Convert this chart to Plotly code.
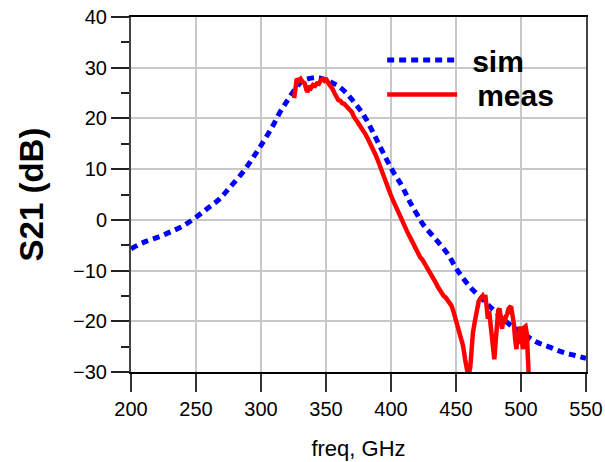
import plotly.graph_objects as go

# Simulated S21 response (dB) versus frequency (GHz)
sim_freq = [200, 210, 222, 231, 240, 250, 260, 268, 276, 286, 295, 302, 309, 315,
            320, 326, 332, 340, 345, 350, 355, 360, 367, 375, 381, 388, 394, 401,
            407, 412, 415, 420, 425, 435, 443, 451, 461, 471, 481, 491, 501, 512,
            522, 532, 541, 550]
sim_db = [-5.7, -4.4, -3.3, -2.3, -1.2, 0.5, 2.5, 4.1, 6.4, 9.4, 12.7, 15.5, 18.5, 21.4,
          23.4, 25.7, 27.4, 28.0, 28.0, 27.6, 27.0, 26.3, 24.6, 22.1, 19.8, 16.3, 13.2, 9.8,
          7.3, 4.9, 3.3, 1.1, -1.0, -4.0, -6.5, -9.9, -13.3, -15.8, -18.3, -20.6, -22.3, -24.1,
          -25.1, -26.1, -26.7, -27.3]

# Measured S21 response (dB) versus frequency (GHz)
meas_freq = [325.5, 326.5, 327.5, 329, 330.5, 332, 333.5, 335, 336, 337, 338.5, 340, 341.5,
             343, 344.5, 346, 347.5, 349, 350.5, 352, 353.5, 355, 356.5, 358, 359.5, 361,
             362.5, 364, 365.5, 367, 368.5, 370, 371.5, 373, 374.5, 376, 377.5, 379, 380.5,
             382, 383.5, 385, 386.5, 388, 389.5, 391, 392.5, 394, 395.5, 397, 398.5, 400,
             401.5, 403, 404.5, 406, 407.5, 409, 410.5, 412, 413.5, 415, 416.5, 418, 419.5,
             421, 422.5, 424, 425.5, 427, 428.5, 430, 431.5, 433, 434.5, 436, 437.5, 439,
             440.5, 442, 443.5, 445, 446.5, 448, 449.5, 451, 452.5, 454, 455.5, 457, 458.5,
             459.5, 461, 462, 463, 464.5, 466, 467.5, 469, 470.5, 471.5, 472.5, 473.5, 474.5,
             475.5, 476.5, 477.5, 478.5, 479.5, 480.5, 481.5, 482.5, 483.5, 484.5, 485.5,
             486.5, 487.5, 488.5, 489.5, 490.5, 491.5, 492.5, 493.5, 494.5, 495.5, 496.5,
             497.5, 498.5, 499.5, 500.5, 501.5, 502.5, 503.5, 504.5, 505.5, 506]
meas_db = [24.0, 27.0, 27.8, 27.4, 27.8, 27.2, 27.0, 25.6, 25.2, 26.4, 26.0, 26.6, 26.4,
           26.9, 26.8, 27.5, 27.8, 27.4, 27.6, 26.9, 26.5, 25.8, 25.0, 24.1, 23.6, 23.5,
           23.0, 22.9, 22.5, 22.0, 21.5, 21.2, 20.3, 19.9, 19.2, 18.6, 18.1, 17.3, 16.8,
           16.1, 15.4, 14.6, 13.8, 12.9, 12.0, 10.9, 10.1, 9.0, 8.2, 7.1, 6.0, 4.8,
           3.9, 3.0, 2.1, 1.2, 0.4, -0.6, -1.4, -2.3, -2.9, -3.6, -4.4, -5.4, -6.2,
           -6.8, -7.4, -7.8, -8.4, -9.1, -9.6, -10.4, -11.0, -11.8, -12.4, -13.2, -13.8, -14.6,
           -15.0, -15.3, -15.8, -16.3, -16.9, -18.0, -19.3, -20.6, -21.8, -23.2, -24.9, -27.5, -30.5,
           -31.0, -29.0, -25.0, -22.3, -20.0, -17.3, -16.0, -15.5, -15.0, -15.6, -14.8, -17.0, -19.5,
           -18.0, -21.0, -23.0, -25.5, -27.5, -24.0, -19.5, -17.8, -17.5, -20.2, -21.5,
           -19.0, -20.2, -19.0, -18.5, -17.5, -17.2, -17.3, -18.5, -20.5, -23.5, -25.5,
           -22.0, -24.5, -21.0, -23.5, -25.5, -21.2, -21.0, -22.5, -30.5, -31.0]

x_ticks = [200, 250, 300, 350, 400, 450, 500, 550]
y_ticks = [-30, -20, -10, 0, 10, 20, 30, 40]

FONT = "Liberation Sans, Arial, sans-serif"
LEGEND_FONT = dict(family=FONT, size=30, color="black")

fig = go.Figure()
fig.add_trace(go.Scatter(
    x=sim_freq, y=sim_db, mode="lines", name="\u2006\u2006<b>sim</b>",
    line=dict(color="#0000ff", width=5, dash="7px,5px", shape="spline"),
    legend="legend",
))
fig.add_trace(go.Scatter(
    x=meas_freq, y=meas_db, mode="lines", name="\u2002<b>meas</b>",
    line=dict(color="#ff0000", width=4.5),
    legend="legend2",
))

fig.update_layout(
    width=605, height=462,
    margin=dict(l=131, r=19, t=17, b=90),
    plot_bgcolor="white", paper_bgcolor="white",
    font=dict(family=FONT, color="black", size=20),
    showlegend=True,
    legend=dict(
        x=0.552, y=0.879, xanchor="left", yanchor="middle",
        bgcolor="rgba(0,0,0,0)", borderwidth=0, itemwidth=70,
        font=LEGEND_FONT,
    ),
    legend2=dict(
        x=0.552, y=0.782, xanchor="left", yanchor="middle",
        bgcolor="rgba(0,0,0,0)", borderwidth=0, itemwidth=70,
        font=LEGEND_FONT,
    ),
    xaxis=dict(
        range=[200, 550], tickvals=x_ticks, automargin=False,
        showgrid=True, gridcolor="#c8c8c8", gridwidth=1.5,
        showline=True, linecolor="black", linewidth=1.5, mirror=True,
        ticks="outside", ticklen=18, tickwidth=1.5, tickcolor="#333",
        tickfont=dict(size=20), zeroline=False,
        title=dict(text="freq, GHz", font=dict(size=22), standoff=22),
    ),
    yaxis=dict(
        range=[-30, 40], tickvals=y_ticks, automargin=False,
        showgrid=True, gridcolor="#c8c8c8", gridwidth=1.5,
        showline=True, linecolor="#444", linewidth=2, mirror=True,
        ticks="outside", ticklen=18, tickwidth=1.5, tickcolor="#222",
        tickfont=dict(size=20), zeroline=False,
        minor=dict(dtick=5, ticks="outside", ticklen=8, tickwidth=1.5,
                   tickcolor="#222", showgrid=False),
        title=dict(text="<b>S21 (dB)</b>", font=dict(size=33), standoff=20),
    ),
)

fig.write_html("out.html")
